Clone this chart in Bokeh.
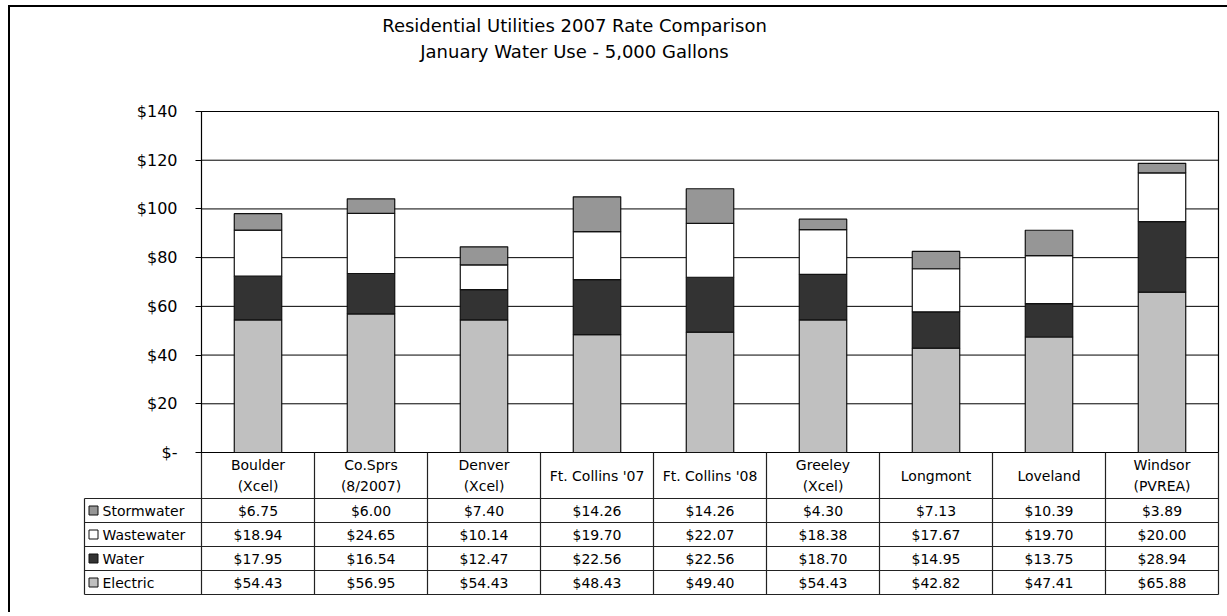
from bokeh.plotting import figure
from bokeh.models import Range1d, FixedTicker, LinearAxis, ColumnDataSource
from bokeh.layouts import column
from bokeh.embed import file_html
from bokeh.resources import INLINE
from bokeh.core.properties import value

# ---------------- data ----------------
categories = ["Boulder\n(Xcel)", "Co.Sprs\n(8/2007)", "Denver\n(Xcel)", "Ft. Collins '07",
              "Ft. Collins '08", "Greeley\n(Xcel)", "Longmont", "Loveland", "Windsor\n(PVREA)"]
stormwater = [6.75, 6.00, 7.40, 14.26, 14.26, 4.30, 7.13, 10.39, 3.89]
wastewater = [18.94, 24.65, 10.14, 19.70, 22.07, 18.38, 17.67, 19.70, 20.00]
water = [17.95, 16.54, 12.47, 22.56, 22.56, 18.70, 14.95, 13.75, 28.94]
electric = [54.43, 56.95, 54.43, 48.43, 49.40, 54.43, 42.82, 47.41, 65.88]
series_names = ["Electric", "Water", "Wastewater", "Stormwater"]
series_colors = ["#c0c0c0", "#333333", "#ffffff", "#969696"]
y_ticks = [0, 20, 40, 60, 80, 100, 120, 140]
y_tick_labels = ["$-", "$20", "$40", "$60", "$80", "$100", "$120", "$140"]
title_lines = ["Residential Utilities 2007 Rate Comparison", "January Water Use - 5,000 Gallons"]

FONT = "DejaVu Sans"
n = len(categories)
xs = [i + 0.5 for i in range(n)]
values_by_series = {"Electric": electric, "Water": water,
                    "Wastewater": wastewater, "Stormwater": stormwater}

# ---------------- layout geometry (page pixels) ----------------
OX, OY = 10, 7                 # canvas origin inside the outer frame border
W, H = 1217, 605
PLOT_L, PLOT_R, PLOT_T, PLOT_B = 201, 1218, 111, 452
FRAME_L, FRAME_R, FRAME_T, FRAME_B = 81, 1220, OY, 596
y_max = y_ticks[-1]
kx = (PLOT_R - PLOT_L) / n           # px per category
ky = (PLOT_B - PLOT_T) / y_max       # px per dollar
row_px = 24.0
head_units = 46 / row_px
tbl_top = 4 + head_units
tbl_zero_px = PLOT_B + tbl_top * row_px


def xd(px):
    return (px - PLOT_L) / kx


def yd(py):
    return (PLOT_B - py) / ky


p = figure(width=W, height=H,
           x_range=Range1d(xd(FRAME_L), xd(FRAME_R)),
           y_range=Range1d(yd(FRAME_B), yd(FRAME_T)),
           output_backend="svg", toolbar_location=None, x_axis_type=None, y_axis_type=None,
           min_border_left=FRAME_L - OX, min_border_right=OX + W - FRAME_R,
           min_border_top=FRAME_T - OY, min_border_bottom=OY + H - FRAME_B)
p.title.visible = False
p.grid.visible = False
p.outline_line_color = None
p.extra_y_ranges = {"table": Range1d(-(FRAME_B - tbl_zero_px) / row_px,
                                     (tbl_zero_px - FRAME_T) / row_px)}

# gridlines and plot-area border
gy = y_ticks[1:-1]
p.segment(x0=[0] * len(gy), y0=gy, x1=[n] * len(gy), y1=gy, line_color="black", line_width=1)
p.quad(left=[0], right=[n], bottom=[0], top=[y_max], fill_color=None,
       line_color="black", line_width=1.2)

# stacked bars
src = ColumnDataSource(dict(x=xs, **values_by_series))
p.vbar_stack(series_names, x="x", width=0.42, source=src,
             fill_color=series_colors, line_color="#111111", line_width=1.2)

# y axis at x = 0
yax = LinearAxis(fixed_location=0, bounds=(0, y_max), ticker=FixedTicker(ticks=y_ticks))
yax.major_label_overrides = {t: l for t, l in zip(y_ticks, y_tick_labels)}
yax.major_tick_out = 6
yax.major_tick_in = 0
yax.minor_tick_line_color = None
yax.axis_line_color = "black"
yax.major_tick_line_color = "black"
yax.major_label_standoff = 18
yax.major_label_text_font = FONT
yax.major_label_text_font_size = "16px"
yax.major_label_text_color = "black"
p.add_layout(yax, "left")

# titles
p.text(x=[xd(574)] * 2, y=[yd(25), yd(51)], text=title_lines, text_align="center",
       text_baseline="alphabetic", text_font=value(FONT), text_font_size="18px",
       text_color="black")

# ---------------- data table ----------------
leg_left = -117 / kx
vx0 = list(range(n + 1)) + [leg_left]
vy0 = [0] * (n + 2)
vy1 = [tbl_top] * (n + 1) + [4]
hy = [0, 1, 2, 3, 4]
p.segment(x0=vx0, y0=vy0, x1=vx0, y1=vy1, line_color="#222222", line_width=1.2,
          y_range_name="table")
p.segment(x0=[leg_left] * len(hy), y0=hy, x1=[n] * len(hy), y1=hy,
          line_color="#222222", line_width=1.2, y_range_name="table")

p.text(x=xs, y=[4 + head_units / 2] * n, text=categories, text_align="center",
       text_baseline="middle", text_font=value(FONT), text_font_size="14px",
       text_color="black", text_line_height=1.3, y_range_name="table")

row_y = {"Electric": 0.5, "Water": 1.5, "Wastewater": 2.5, "Stormwater": 3.5}
for name in series_names:
    vals = values_by_series[name]
    p.text(x=xs, y=[row_y[name]] * n, text=[f"${v:.2f}" for v in vals],
           text_align="center", text_baseline="middle", text_font=value(FONT),
           text_font_size="14px", text_color="black", y_range_name="table")

leg_y = [row_y[s] for s in series_names]
p.scatter(x=[leg_left + 9 / kx] * len(series_names), y=leg_y, marker="square", size=9,
          fill_color=series_colors, line_color="#111111", line_width=1, y_range_name="table")
p.text(x=[leg_left + 18 / kx] * len(series_names), y=leg_y, text=series_names,
       text_align="left", text_baseline="middle", text_font=value(FONT),
       text_font_size="14px", text_color="black", y_range_name="table")

layout = column(p, styles={"border-left": "2px solid #000", "border-top": "2px solid #000",
                           "margin-left": "8px", "margin-top": "5px"})

open("out.html", "w").write(file_html(layout, INLINE))
